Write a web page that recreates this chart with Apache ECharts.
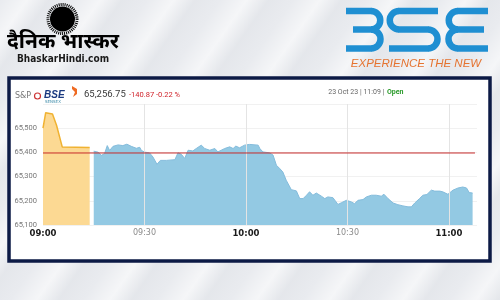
<!DOCTYPE html>
<html>
<head>
<meta charset="utf-8">
<script src="https://cdn.jsdelivr.net/npm/echarts@6/dist/echarts.min.js"></script>
<style>
html,body{margin:0;padding:0;width:500px;height:300px;overflow:hidden;}
body{background:#e9ebef;background-image:repeating-linear-gradient(125deg,rgba(255,255,255,0.0) 0px,rgba(255,255,255,0.55) 22px,rgba(220,223,228,0.35) 40px,rgba(255,255,255,0.0) 60px);}
#c{width:500px;height:300px;}
</style>
</head>
<body>
<div id="c"></div>
<script>
// ---- data (minutes after 09:00, index level) ----
const preOpenTimes = [0, 0.8, 2.8, 4.0, 5.7, 13.8];
const preOpenValues = [65500, 65564, 65559, 65512, 65422, 65420];

const sessionTimes = [15.0,16.3,17.3,18.2,19.0,19.7,20.7,22.2,23.6,24.8,26.1,27.6,28.6,29.1,30.1,31.5,32.5,33.7,34.7,36.5,39.0,39.9,40.9,41.9,42.9,44.3,45.3,46.8,47.8,49.3,50.8,51.7,53.7,55.2,56.2,57.0,58.1,59.6,61.1,63.6,64.1,65.0,67.0,68.0,69.0,70.0,70.9,71.9,73.4,74.9,75.9,76.9,77.9,78.8,79.8,80.8,82.3,83.3,84.2,85.7,87.2,88.2,89.7,91.2,92.1,93.1,94.6,95.6,97.1,98.5,100.0,100.8,102.0,103.5,104.9,106.4,107.9,108.9,109.9,111.3,112.3,113.5,114.8,115.8,117.3,118.2,119.7,121.2,122.7,124.1,125.2,126.0,127.0];
const sessionValues = [65405,65401,65388,65395,65428,65408,65425,65431,65428,65434,65425,65417,65421,65408,65401,65398,65381,65351,65367,65367,65370,65398,65392,65375,65409,65406,65416,65430,65416,65409,65416,65402,65416,65423,65416,65426,65419,65430,65433,65430,65416,65402,65398,65389,65347,65333,65319,65285,65246,65241,65209,65209,65223,65237,65223,65232,65219,65209,65216,65213,65185,65192,65202,65195,65188,65202,65205,65216,65223,65223,65219,65227,65209,65191,65184,65179,65175,65175,65191,65209,65223,65226,65244,65240,65240,65237,65227,65244,65253,65257,65253,65234,65232];

const prevCloseTimes = [0, 127.7];
const prevClose = 65397.62;

const xTickValues = [0, 30, 60, 90, 120];
const xTickLabels = ['09:00', '09:30', '10:00', '10:30', '11:00'];
const xTickBold = [true, false, true, false, true];
const yTickValues = [65100, 65200, 65300, 65400, 65500];

const lastValue = '65,256.75';
const change = '-140.87 -0.22 %';
const stamp = '23 Oct 23 | 11:09 | ';

// ---- build ----
const pair = (t, v) => t.map((x, i) => [x, Array.isArray(v) ? v[i] : v]);

const BLUE = '#1f8fd2';
const lw = 6.5;
const seg = (x1, y1, x2, y2) => ({type: 'line', z: -5, shape: {x1, y1, x2, y2}, style: {stroke: BLUE, lineWidth: lw}});
const half = (cx, cy, r, right) => ({type: 'arc', z: -5,
  shape: {cx, cy, r, startAngle: right ? -Math.PI / 2 : Math.PI / 2, endAngle: right ? Math.PI / 2 : Math.PI * 1.5, clockwise: true},
  style: {stroke: BLUE, lineWidth: lw, fill: 'none'}});

const logo = [
  // "B"
  seg(346, 11, 371.5, 11), half(371, 20.25, 9.25, true), seg(353, 29.5, 371.5, 29.5), half(371, 39, 9.5, true), seg(346, 48.5, 371.5, 48.5),
  // "S"
  seg(398.5, 11, 438, 11), half(399, 20.25, 9.25, false), seg(398.5, 29.5, 428.5, 29.5), half(428, 39, 9.5, true), seg(389, 48.5, 428.5, 48.5),
  // "E"
  seg(457.5, 11, 488, 11), half(458, 20.25, 9.25, false), seg(457.5, 29.5, 484, 29.5), half(458, 39, 9.5, false), seg(457.5, 48.5, 488, 48.5)
];

const chart = echarts.init(document.getElementById('c'), null, {renderer: 'canvas'});
const option = {
  backgroundColor: 'transparent',
  animation: false,
  grid: {left: 43, right: 23, top: 104, bottom: 75},
  xAxis: {
    type: 'value', min: 0, max: 128.3, interval: 30,
    axisLine: {show: false}, axisTick: {show: false}, splitLine: {show: false},
    axisLabel: {
      margin: 4, showMaxLabel: false,
      formatter: v => {
        const i = xTickValues.indexOf(v);
        if (i < 0) return '';
        return xTickBold[i] ? '{b|' + xTickLabels[i] + '}' : '{n|' + xTickLabels[i] + '}';
      },
      rich: {
        b: {fontSize: 8.5, fontWeight: 'bold', color: '#1a1a1a', fontFamily: 'DejaVu Sans'},
        n: {fontSize: 8, color: '#8a8a8a', fontFamily: 'DejaVu Sans'}
      }
    }
  },
  yAxis: {
    type: 'value', min: 65100, max: 65600, interval: 100,
    axisLine: {show: false}, axisTick: {show: false},
    splitLine: {lineStyle: {color: '#f1f1f1', width: 1}},
    axisLabel: {
      margin: 6, showMaxLabel: false, fontSize: 7.5, color: '#777', fontFamily: 'Roboto',
      formatter: v => yTickValues.indexOf(v) >= 0 ? v.toLocaleString('en-US') : ''
    }
  },
  series: [
    {
      type: 'line', data: [], silent: true,
      markLine: {
        silent: true, symbol: ['none', 'none'], label: {show: false},
        lineStyle: {color: '#e4e4e4', type: 'solid', width: 1},
        data: xTickValues.slice(1).map(v => ({xAxis: v}))
      }
    },
    {
      type: 'line', data: pair(preOpenTimes, preOpenValues), showSymbol: false,
      lineStyle: {color: '#f0b231', width: 1.5},
      areaStyle: {color: '#fcd993', opacity: 1, origin: 'start'}, z: 3
    },
    {
      type: 'line', data: pair(sessionTimes, sessionValues), showSymbol: false,
      lineStyle: {color: '#84bcdc', width: 1},
      areaStyle: {color: '#93c9e3', opacity: 1, origin: 'start'}, z: 3
    },
    {
      type: 'line', data: pair(prevCloseTimes, prevClose), showSymbol: false,
      lineStyle: {color: '#c62a2a', width: 1}, z: 5
    }
  ],
  graphic: [
    // white chart panel with navy frame
    {type: 'rect', z: -10, shape: {x: 9, y: 78, width: 481, height: 183},
     style: {fill: '#ffffff', stroke: '#0c1a45', lineWidth: 3.5}},
    // Dainik Bhaskar sun
    {type: 'circle', z: -5, shape: {cx: 62.5, cy: 19, r: 12.5}, style: {fill: '#000'}},
    {type: 'circle', z: -5, shape: {cx: 62.5, cy: 19, r: 14.5}, style: {fill: 'none', stroke: '#000', lineWidth: 3, lineDash: [1, 1]}},
    {type: 'text', z: -5, style: {x: 63, y: 44, text: 'दैनिक भास्कर', fill: '#000', font: 'bold 21px "Noto Sans Devanagari", "Noto Sans", sans-serif', textAlign: 'center', textVerticalAlign: 'middle'}},
    {type: 'text', z: -5, style: {x: 63, y: 59, text: 'BhaskarHindi.com', fill: '#1a1a1a', font: 'bold 10px "Liberation Sans Narrow", "DejaVu Sans Condensed", sans-serif', textAlign: 'center', textVerticalAlign: 'middle'}},
    ...logo,
    {type: 'text', z: -5, style: {x: 416, y: 63.5, text: 'EXPERIENCE THE NEW', fill: '#e57330', font: 'italic 11.5px "Liberation Sans", sans-serif', textAlign: 'center', textVerticalAlign: 'middle'}},
    // chart header
    {type: 'text', style: {x: 15, y: 96, text: 'S&P', fill: '#777', font: '8px "DejaVu Sans", sans-serif', textVerticalAlign: 'middle'}},
    {type: 'circle', shape: {cx: 37.5, cy: 96, r: 3}, style: {fill: 'none', stroke: '#c33', lineWidth: 1.2}},
    {type: 'text', style: {x: 44, y: 95.5, text: 'BSE', fill: '#1b3a80', font: 'italic bold 10px "Liberation Sans", sans-serif', textVerticalAlign: 'middle'}},
    {type: 'text', style: {x: 45, y: 101.5, text: 'SENSEX', fill: '#3a8aa8', font: '4px "DejaVu Sans", sans-serif', textVerticalAlign: 'middle'}},
    {type: 'polygon', shape: {points: [[72, 86], [77, 89], [77, 94], [73, 97], [75, 92], [72, 89]]}, style: {fill: '#ef6a22'}},
    {type: 'text', style: {x: 84, y: 94.5, text: lastValue, fill: '#3a3a3a', font: '9.5px "Roboto", sans-serif', textVerticalAlign: 'middle'}},
    {type: 'text', style: {x: 129, y: 95, text: change, fill: '#d0242c', font: '7.5px "Roboto", sans-serif', textVerticalAlign: 'middle'}},
    {type: 'text', style: {x: 386, y: 92, text: stamp, fill: '#666', font: '7px "Roboto", sans-serif', textAlign: 'right', textVerticalAlign: 'middle'}},
    {type: 'text', style: {x: 387, y: 92, text: 'Open', fill: '#2a9a2a', font: 'bold 7px "Roboto", sans-serif', textVerticalAlign: 'middle'}}
  ]
};
chart.setOption(option);
</script>
</body>
</html>
